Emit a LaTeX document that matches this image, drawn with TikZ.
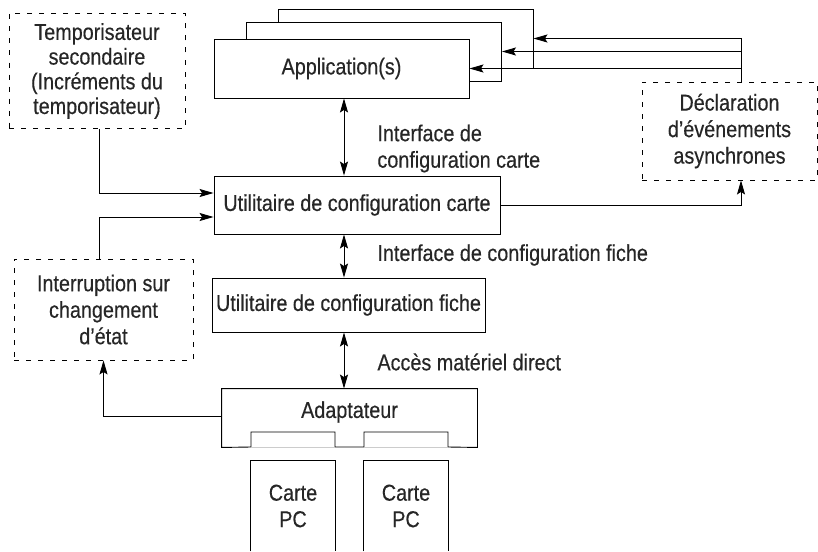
\documentclass[tikz,border=0pt]{standalone}
\usepackage{fontspec}
\setmainfont{Liberation Sans}[FakeStretch=0.86,FakeBold=0.4]
\usetikzlibrary{arrows.meta,positioning}

\begin{document}
\begin{tikzpicture}[x=1pt,y=-1pt,>={Stealth[length=14pt,width=8pt,inset=2.5pt]},line width=0.9pt]
                    \tikzstyle{every node}+=[inner sep=0pt, font=\fontsize{23}{26.5}\selectfont, align=center, text=black!85]
                    \tikzstyle{box}=[draw, rectangle, fill=white]
                    \tikzstyle{dbox}=[draw, rectangle, dash pattern=on 5pt off 7pt]
                    \useasboundingbox (0,0) rectangle (818,551);
                    % stack of applications
                    \node [box, minimum width=255, minimum height=59] (app3) at (405.5,38.5) {};
                    \node [box, minimum width=255, minimum height=59] (app2) at (374,51.5) {};
                    \node [box, minimum width=255, minimum height=59] (app) at (341.5,68.5) {Application(s)};
                    % side boxes
                    \node [dbox, minimum width=176, minimum height=115, font=\fontsize{23}{24.7}\selectfont] (temp) at (97,71) {Temporisateur\\secondaire\\(Incréments du\\temporisateur)};
                    \node [dbox, minimum width=175, minimum height=98] (decl) at (729.5,131) {Déclaration\\d’événements\\asynchrones};
                    \node [dbox, minimum width=179, minimum height=101] (intr) at (103.5,309.5) {Interruption sur\\changement\\d’état};
                    % utilities
                    \node [box, minimum width=286, minimum height=58] (carte) at (357,205) {Utilitaire de configuration carte};
                    \node [box, minimum width=273, minimum height=54] (fiche) at (348.5,305) {Utilitaire de configuration fiche};
                    % adapter and cards
                    \node [minimum width=255, minimum height=58] (adapt) at (349.5,418) {};
                    \node (adaptlbl) at ([yshift=6]adapt.center) {Adaptateur};
                    \draw (adapt.north west) -- (adapt.north east) -- (adapt.south east) -- (448,447) -- (448,432) -- (364,432) -- (364,447)
                          -- (335,447) -- (335,432) -- (251,432) -- (251,447) -- (adapt.south west) -- cycle;
                    \draw [black!20] (251,447) -- (335,447) (364,447) -- (448,447);
                    \node [minimum width=84, minimum height=90] (pc1) at (293,506) {Carte\\PC};
                    \node [minimum width=84, minimum height=90] (pc2) at (406,506) {Carte\\PC};
                    \draw (pc1.south west) -- (pc1.north west) -- (pc1.north east) -- (pc1.south east);
                    \draw (pc2.south west) -- (pc2.north west) -- (pc2.north east) -- (pc2.south east);
                    % interface labels
                    \node [anchor=west, align=left] (ifcarte) at (377,148.5) {Interface de\\configuration carte};
                    \node [anchor=west] (iffiche) at (377,255) {Interface de configuration fiche};
                    \node [anchor=west] (acces) at (377,362) {Accès matériel direct};
                    % connectors
                    \draw [<->] ([xshift=2.5]app.south) -- ([xshift=2.5]app.south |- carte.north);
                    \draw [<->] ([xshift=-13]carte.south) -- ([xshift=-13]carte.south |- fiche.north);
                    \draw [<->] ([xshift=-4.5]fiche.south) -- ([xshift=-4.5]fiche.south |- adapt.north);
                    \draw [->] ([xshift=2]temp.south) |- ([yshift=12]carte.west);
                    \draw [->] ([xshift=-4.5]intr.north) |- ([yshift=-12]carte.west);
                    \draw [->] ([yshift=2]adapt.west) -| (intr.south);
                    \coordinate (br) at ([xshift=11.5]decl.north);
                    \draw [->] (carte.east) -| ([xshift=11.5]decl.south);
                    \draw [->] (br) |- (app3.east);
                    \draw [->] (br |- app2.east) -- (app2.east);
                    \draw [->] (br |- app.east) -- (app.east);
                \end{tikzpicture}
\end{document}
